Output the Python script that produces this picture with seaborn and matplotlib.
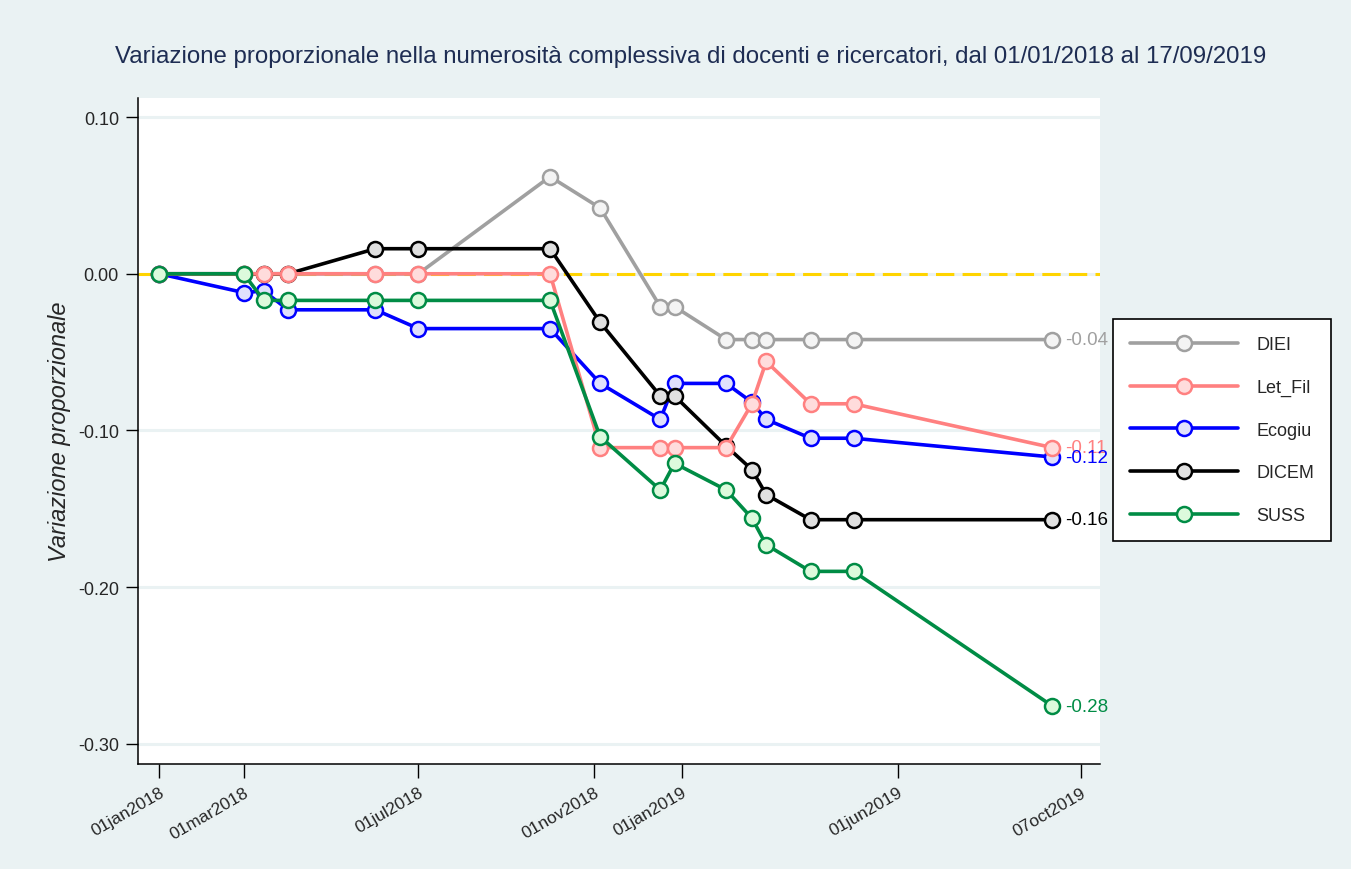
import pandas as pd
import matplotlib
matplotlib.use('Agg')
import matplotlib.pyplot as plt
import matplotlib.dates as mdates
import seaborn as sns

# date di rilevazione
date = ['2018-01-01', '2018-03-01', '2018-03-15', '2018-04-01', '2018-06-01', '2018-07-01',
        '2018-10-01', '2018-11-05', '2018-12-17', '2018-12-27', '2019-02-01', '2019-02-19',
        '2019-03-01', '2019-04-01', '2019-05-01', '2019-09-17']

# variazione proporzionale per dipartimento
diei    = [0, 0, 0, 0, 0, 0, 0.062, 0.042, -0.021, -0.021, -0.042, -0.042, -0.042, -0.042, -0.042, -0.042]
let_fil = [0, 0, 0, 0, 0, 0, 0, -0.111, -0.111, -0.111, -0.111, -0.083, -0.056, -0.083, -0.083, -0.111]
ecogiu  = [0, -0.012, -0.011, -0.023, -0.023, -0.035, -0.035, -0.070, -0.093, -0.070, -0.070, -0.082, -0.093, -0.105, -0.105, -0.117]
dicem   = [0, 0, 0, 0, 0.016, 0.016, 0.016, -0.031, -0.078, -0.078, -0.110, -0.125, -0.141, -0.157, -0.157, -0.157]
suss    = [0, 0, -0.017, -0.017, -0.017, -0.017, -0.017, -0.104, -0.138, -0.121, -0.138, -0.156, -0.173, -0.190, -0.190, -0.276]

nomi = ['DIEI', 'Let_Fil', 'Ecogiu', 'DICEM', 'SUSS']
etichette_fine = ['-0.04', '-0.11', '-0.12', '-0.16', '-0.28']

xtick_date = ['2018-01-01', '2018-03-01', '2018-07-01', '2018-11-01', '2019-01-01', '2019-06-01', '2019-10-07']
xtick_label = ['01jan2018', '01mar2018', '01jul2018', '01nov2018', '01jan2019', '01jun2019', '07oct2019']
ytick_val = [0.10, 0.00, -0.10, -0.20, -0.30]

# colori (linea, riempimento marker) e ordine di disegno
colori = {'DIEI': ('#a0a0a0', '#f4f4f4'),
          'Let_Fil': ('#ff8080', '#ffdcdc'),
          'Ecogiu': ('#0000ff', '#e0e0fc'),
          'DICEM': ('#000000', '#e0e0e0'),
          'SUSS': ('#008c45', '#dcfadc')}
livello = {'DIEI': 3, 'Ecogiu': 4, 'DICEM': 5, 'Let_Fil': 6, 'SUSS': 7}

df = pd.DataFrame({'data': pd.to_datetime(date),
                   'DIEI': diei, 'Let_Fil': let_fil, 'Ecogiu': ecogiu,
                   'DICEM': dicem, 'SUSS': suss})
df_long = df.melt(id_vars='data', var_name='dip', value_name='var')

sns.set_style('white')
plt.rcParams['font.family'] = ['Liberation Sans', 'DejaVu Sans']

sfondo = '#eaf2f3'
fig = plt.figure(figsize=(13.51, 8.70), dpi=100)
fig.patch.set_facecolor(sfondo)
ax = fig.add_axes([0.102, 0.121, 0.712, 0.765])
ax.set_facecolor('white')

# griglia e linea dello zero
for v in ytick_val:
    ax.axhline(v, color=sfondo, lw=2.2, zorder=0)
ax.axhline(0, color='#ffd400', lw=2.2, ls=(0, (6, 2.7)), zorder=1)

for nome in nomi:
    sub = df_long[df_long['dip'] == nome]
    lc, fc = colori[nome]
    sns.lineplot(data=sub, x='data', y='var', ax=ax, color=lc, lw=2.6,
                 marker='o', markersize=10.8, markerfacecolor=fc,
                 markeredgecolor=lc, markeredgewidth=1.8, label=nome,
                 sort=False, zorder=livello[nome])

# etichette finali
ultima = pd.to_datetime(date[-1])
for nome, lab in zip(nomi, etichette_fine):
    y = df[nome].iloc[-1]
    ax.annotate(lab, (mdates.date2num(ultima), y), xytext=(9, 0), textcoords='offset points',
                va='center', ha='left', fontsize=13.5, color=colori[nome][0], zorder=8)

ax.set_xlim(mdates.date2num(pd.Timestamp('2017-12-17')), mdates.date2num(pd.Timestamp('2019-10-20')))
ax.set_ylim(-0.3128, 0.1121)
ax.set_xticks(mdates.date2num(pd.to_datetime(xtick_date)))
ax.set_xticklabels(xtick_label, rotation=30, ha='right', rotation_mode='anchor', fontsize=12.5)
ax.set_yticks(ytick_val)
ax.set_yticklabels(['{:.2f}'.format(v) for v in ytick_val], fontsize=13)
ax.tick_params(axis='x', length=10, width=1, color='black', pad=5, bottom=True)
ax.tick_params(axis='y', length=8.6, width=1, color='black', pad=5, left=True)

for s in ['top', 'right']:
    ax.spines[s].set_visible(False)
for s in ['left', 'bottom']:
    ax.spines[s].set_color('black')
    ax.spines[s].set_linewidth(1.1)

ax.set_xlabel('')
ax.set_ylabel('Variazione proporzionale', fontsize=17, style='italic', labelpad=5)

fig.text(0.511, 0.934, 'Variazione proporzionale nella numerosità complessiva di docenti e ricercatori, dal 01/01/2018 al 17/09/2019',
         ha='center', va='center', fontsize=17.3, color='#1e2d53')

ax.get_legend().remove()
handles, labels = ax.get_legend_handles_labels()
leg = fig.legend(handles, labels, loc='upper left', bbox_to_anchor=(0.8235, 0.632),
                 fontsize=13, frameon=True, fancybox=False, edgecolor='black',
                 facecolor='white', framealpha=1,
                 handlelength=6.0, handletextpad=1.0, labelspacing=1.42,
                 borderpad=0.95, borderaxespad=0)
leg.get_frame().set_linewidth(1.2)

fig.savefig('out.png', dpi=100, facecolor=sfondo)
